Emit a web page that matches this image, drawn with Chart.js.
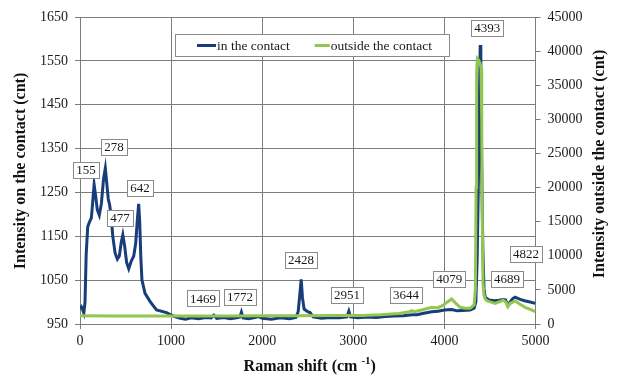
<!DOCTYPE html>
<html>
<head>
<meta charset="utf-8">
<script src="https://cdn.jsdelivr.net/npm/chart.js@4/dist/chart.umd.min.js"></script>
<style>
html,body{margin:0;padding:0;background:#fff;}
#wrap{width:618px;height:378px;position:relative;}
</style>
</head>
<body>
<div id="wrap"><canvas id="c"></canvas></div>
<script>
// ---- data ----
const seriesNames = ['in the contact', 'outside the contact'];

const ramanIn = [0,15,30,42,55,68,85,105,125,142,155,170,190,212,235,258,278,292,310,325,340,360,385,410,432,452,470,490,512,535,560,590,612,630,644,655,668,680,714,770,840,950,1006,1040,1100,1160,1220,1300,1380,1440,1469,1500,1580,1650,1720,1755,1772,1790,1850,1920,1960,2000,2100,2200,2300,2370,2395,2412,2428,2442,2460,2500,2525,2560,2650,2750,2850,2930,2951,2970,3050,3150,3250,3350,3450,3550,3644,3700,3760,3861,3930,4000,4079,4140,4200,4282,4326,4345,4360,4375,4385,4393,4400,4410,4422,4435,4447,4490,4550,4600,4645,4670,4696,4720,4750,4776,4831,4880,4940,5000];
const countsIn = [985,989,982,975,1000,1110,1172,1183,1192,1235,1268,1245,1210,1198,1225,1280,1305,1275,1235,1222,1200,1150,1112,1098,1105,1135,1153,1128,1090,1076,1092,1105,1135,1190,1224,1185,1100,1050,1020,1001,982,976,970,967,963,961,964,962,965,964,970,963,965,962,964,966,977,964,962,965,967,963,961,964,962,965,978,1015,1052,1010,984,978,976,966,963,965,964,966,979,966,964,966,965,967,968,969,971,971,974,978,979,982,983,980,981,982,986,1000,1100,1300,1480,1586,1500,1300,1120,1030,1011,1005,1003,1004,1006,1005,993,1000,1008,1011,1006,1003,1000,997];

const ramanOut = [0,400,800,1200,1600,2000,2400,2800,3100,3300,3500,3620,3644,3670,3760,3861,3920,3980,4030,4079,4120,4172,4230,4282,4326,4340,4348,4354,4362,4375,4390,4402,4410,4416,4424,4435,4450,4470,4510,4557,4610,4645,4675,4696,4720,4776,4830,4886,4950,5000];
const countsOut = [1200,1190,1185,1180,1185,1195,1210,1230,1230,1350,1550,1800,1950,1800,2100,2450,2350,2700,3200,3660,3100,2450,2300,2300,2800,5000,20000,37000,38900,38700,38300,37500,30000,15000,6000,4200,3600,3400,3200,3030,3300,3500,3200,2540,3000,3370,2900,2450,2100,1800];

const xTicks = [0,1000,2000,3000,4000,5000];
const leftTicks = [950,1050,1150,1250,1350,1450,1550,1650];
const rightTicks = [0,5000,10000,15000,20000,25000,30000,35000,40000,45000];

// peak annotations: text, raman position, left-axis intensity position
const peakText = ['155','278','477','642','1469','1772','2428','2951','3644','4079','4393','4689','4822'];
const peakAtX  = [66,373,439,659,1350,1757,2427,2932,3579,4052,4469,4688,4897];
const peakAtY  = [1302,1354,1192,1260,1009,1012,1096,1016,1017,1053,1625,1053,1110];

const titleLeft = 'Intensity on the contact (cnt)';
const titleRight = 'Intensity outside the contact (cnt)';
const titleX = ['Raman shift (cm', '-1', ')'];

// ---- chart ----
const BLUE = '#173d7a';
const GREEN = '#92c64e';
const GRID = '#7c7c7c';
const FONT = '"Liberation Serif", "Times New Roman", serif';

const toPts = (xs, ys) => xs.map((x, i) => ({x: x, y: ys[i]}));

const overlay = {
  id: 'overlay',
  afterDraw(chart) {
    const ctx = chart.ctx;
    const xs = chart.scales.x, ys = chart.scales.y;
    const ca = chart.chartArea;
    ctx.save();
    // peak labels
    ctx.font = '13px ' + FONT;
    ctx.textAlign = 'center';
    ctx.textBaseline = 'middle';
    ctx.lineWidth = 1;
    for (let i = 0; i < peakText.length; i++) {
      const cx = xs.getPixelForValue(peakAtX[i]);
      const cy = ys.getPixelForValue(peakAtY[i]);
      const w = Math.round(ctx.measureText(peakText[i]).width + 6);
      const h = 16;
      const x0 = Math.round(cx - w / 2) + 0.5, y0 = Math.round(cy - h / 2) + 0.5;
      ctx.fillStyle = '#fff';
      ctx.fillRect(x0, y0, w, h);
      ctx.strokeStyle = '#8a8a8a';
      ctx.strokeRect(x0, y0, w, h);
      ctx.fillStyle = '#1a1a1a';
      ctx.fillText(peakText[i], cx, cy + 1);
    }
    // legend
    ctx.font = '13.5px ' + FONT;
    ctx.textAlign = 'left';
    const colors = [BLUE, GREEN];
    const w1 = ctx.measureText(seriesNames[0]).width;
    const w2 = ctx.measureText(seriesNames[1]).width;
    const lx = ca.left + 95, ly = ca.top + 17;
    const lw = 22 + 20 + w1 + 25 + 16 + w2 + 17, lh = 22;
    ctx.fillStyle = '#fff';
    ctx.fillRect(lx + 0.5, ly + 0.5, Math.round(lw), lh);
    ctx.strokeStyle = '#8a8a8a';
    ctx.strokeRect(lx + 0.5, ly + 0.5, Math.round(lw), lh);
    let px = lx + 22;
    const my = ly + lh / 2 + 0.5;
    ctx.lineWidth = 3;
    ctx.strokeStyle = colors[0];
    ctx.beginPath(); ctx.moveTo(px, my); ctx.lineTo(px + 19, my); ctx.stroke();
    ctx.fillStyle = '#1a1a1a';
    ctx.fillText(seriesNames[0], px + 20, my + 1);
    px = px + 20 + w1 + 25;
    ctx.strokeStyle = colors[1];
    ctx.beginPath(); ctx.moveTo(px, my); ctx.lineTo(px + 15, my); ctx.stroke();
    ctx.fillText(seriesNames[1], px + 16, my + 1);
    // axis titles
    ctx.fillStyle = '#111';
    ctx.font = 'bold 16px ' + FONT;
    ctx.textAlign = 'center';
    ctx.textBaseline = 'middle';
    ctx.save();
    ctx.translate(21, 171);
    ctx.rotate(-Math.PI / 2);
    ctx.fillText(titleLeft, 0, 0);
    ctx.restore();
    ctx.save();
    ctx.translate(chart.width - 18, 164);
    ctx.rotate(-Math.PI / 2);
    ctx.fillText(titleRight, 0, 0);
    ctx.restore();
    // x title with superscript
    ctx.textAlign = 'left';
    ctx.textBaseline = 'alphabetic';
    ctx.font = 'bold 16px ' + FONT;
    const a = ctx.measureText(titleX[0] + ' ').width;
    const c = ctx.measureText(titleX[2]).width;
    ctx.font = 'bold 11px ' + FONT;
    const b = ctx.measureText(titleX[1]).width;
    const total = a + b + c;
    let tx = (ca.left + ca.right) / 2 - total / 2 + 2;
    const base = 371;
    ctx.font = 'bold 16px ' + FONT;
    ctx.fillText(titleX[0] + ' ', tx, base);
    ctx.font = 'bold 11px ' + FONT;
    ctx.fillText(titleX[1], tx + a, base - 7);
    ctx.font = 'bold 16px ' + FONT;
    ctx.fillText(titleX[2], tx + a + b, base);
    ctx.restore();
  }
};

const tickFont = {family: FONT, size: 14};
const plain = v => String(v);

new Chart(document.getElementById('c'), {
  type: 'line',
  data: {
    datasets: [
      {label: seriesNames[0], data: toPts(ramanIn, countsIn), yAxisID: 'y', borderColor: BLUE, backgroundColor: BLUE, borderWidth: 3, pointRadius: 0, tension: 0, order: 1},
      {label: seriesNames[1], data: toPts(ramanOut, countsOut), yAxisID: 'y1', borderColor: GREEN, backgroundColor: GREEN, borderWidth: 3, pointRadius: 0, tension: 0, order: 0}
    ]
  },
  options: {
    responsive: true,
    maintainAspectRatio: false,
    animation: false,
    devicePixelRatio: 1,
    layout: {padding: {top: 17, left: 0, right: 0, bottom: 0}},
    plugins: {legend: {display: false}, tooltip: {enabled: false}},
    scales: {
      x: {
        type: 'linear', min: 0, max: 5000,
        afterBuildTicks: s => { s.ticks = xTicks.map(v => ({value: v})); },
        afterFit: s => { s.height = 54; },
        grid: {color: GRID, lineWidth: 1, tickLength: 5, drawTicks: true},
        border: {color: GRID, width: 1},
        ticks: {font: tickFont, color: '#1a1a1a', padding: 4, maxRotation: 0, callback: plain}
      },
      y: {
        position: 'left', min: 950, max: 1650,
        afterBuildTicks: s => { s.ticks = leftTicks.map(v => ({value: v})); },
        afterFit: s => { s.width = 80; },
        grid: {color: GRID, lineWidth: 1, tickLength: 5},
        border: {color: GRID, width: 1},
        ticks: {font: tickFont, color: '#1a1a1a', padding: 7, callback: plain}
      },
      y1: {
        position: 'right', min: 0, max: 45000,
        afterBuildTicks: s => { s.ticks = rightTicks.map(v => ({value: v})); },
        afterFit: s => { s.width = 82.5; },
        grid: {drawOnChartArea: false, color: GRID, tickLength: 5},
        border: {color: GRID, width: 1},
        ticks: {font: tickFont, color: '#1a1a1a', padding: 7, callback: plain}
      }
    }
  },
  plugins: [overlay]
});
</script>
</body>
</html>
